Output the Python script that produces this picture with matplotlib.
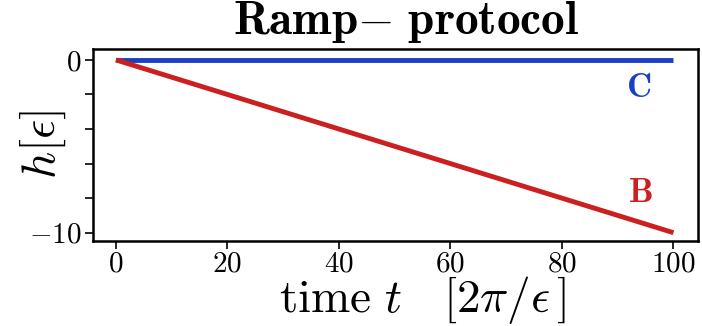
import numpy as np
import matplotlib
matplotlib.use("Agg")
import matplotlib.pyplot as plt
from matplotlib.ticker import MultipleLocator

plt.rcParams["mathtext.fontset"] = "cm"
plt.rcParams["font.family"] = "serif"
plt.rcParams["font.serif"] = ["cmr10"]
plt.rcParams["axes.formatter.use_mathtext"] = True

# Ramp protocol: fields versus time
t = [0, 100]
h_C = [0, 0]
h_B = [0, -10]
x_ticks = [0, 20, 40, 60, 80, 100]
y_ticks = [0, -10]

BLUE = "#1a3fc4"
RED = "#cc1f1f"

fig = plt.figure(figsize=(7.02, 3.26), dpi=100)
ax = fig.add_axes([93 / 702, 1 - 241 / 326, 605 / 702, 192 / 326])

ax.plot(t, h_C, color=BLUE, lw=3.5, solid_capstyle="butt")
ax.plot(t, h_B, color=RED, lw=3.5, solid_capstyle="butt")

ax.text(93.7, -1.65, r"$\mathbf{C}$", color=BLUE, fontsize=25,
        ha="center", va="center")
ax.text(94.0, -7.69, r"$\mathbf{B}$", color=RED, fontsize=25,
        ha="center", va="center")

ax.set_xlim(-4.1, 104.4)
ax.set_ylim(-10.48, 0.63)
ax.set_xticks(x_ticks)
ax.set_xticklabels([rf"${v}$" for v in x_ticks])
ax.set_yticks(y_ticks)
ax.set_yticklabels([r"$0$", r"$-10$"])
ax.yaxis.set_minor_locator(MultipleLocator(2))

ax.tick_params(axis="both", which="major", labelsize=21, length=6, width=1.2,
               direction="out")
ax.tick_params(axis="x", which="major", pad=1)
ax.tick_params(axis="y", which="major", pad=2)
ax.tick_params(axis="y", which="minor", length=6, width=1.2, direction="out")
for s in ax.spines.values():
    s.set_linewidth(1.8)

ax.set_title(r"$\mathbf{Ramp}{-}\ \mathbf{protocol}$", fontsize=34, pad=10.5,
             x=0.517)
ax.set_xlabel(r"$\mathrm{time}\ t\ \ \ [2\pi/\epsilon\,]$", fontsize=34)
ax.xaxis.set_label_coords(0.545, -0.17)
ax.set_ylabel(r"$h[\epsilon]$", fontsize=34)
ax.yaxis.set_label_coords(-25 / 605, 0.5)

fig.savefig("out.png", dpi=100)
